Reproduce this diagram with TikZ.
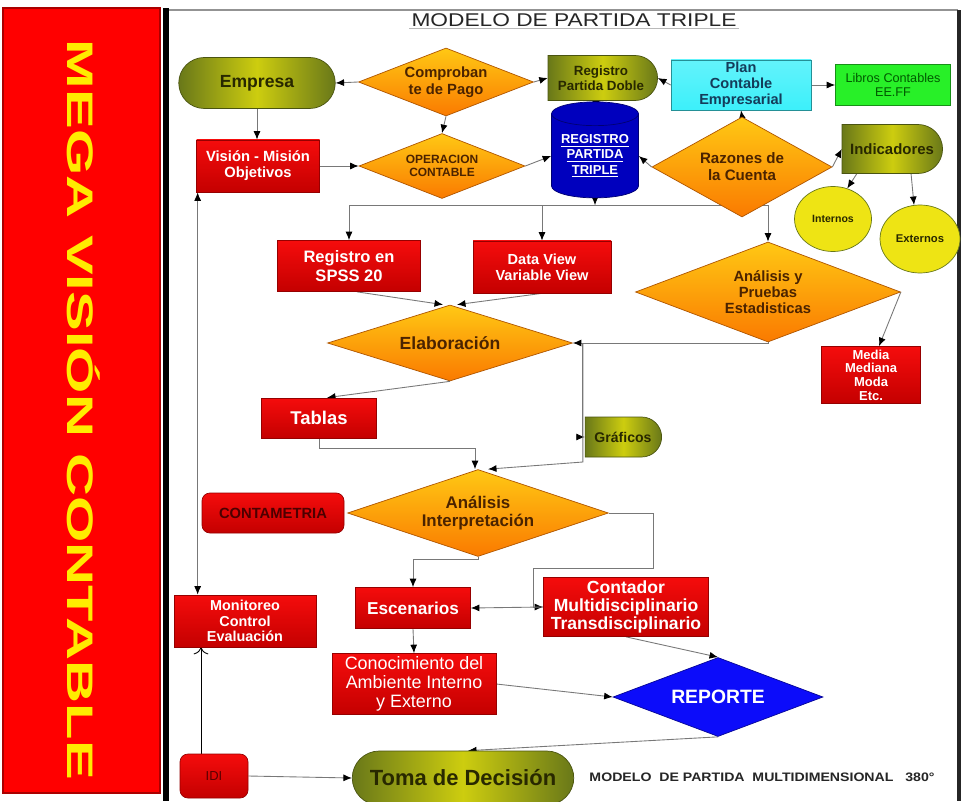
\documentclass[tikz,border=0pt]{standalone}
\usepackage{fontspec}
\setmainfont{Liberation Sans}
\usetikzlibrary{shapes.geometric, shapes.misc, arrows.meta, positioning, backgrounds, calc}

\definecolor{rojoA}{RGB}{245,12,12}
\definecolor{rojoB}{RGB}{196,0,0}
\definecolor{bordeRojo}{RGB}{150,0,0}
\definecolor{rojoBanda}{RGB}{255,0,0}
\definecolor{naranjaA}{RGB}{255,200,20}
\definecolor{naranjaB}{RGB}{250,122,0}
\definecolor{cafe}{RGB}{75,35,0}
\definecolor{oliva}{RGB}{105,120,25}
\definecolor{olivaClaro}{RGB}{205,205,15}
\definecolor{olivaOsc}{RGB}{40,40,0}
\definecolor{amarillo}{RGB}{238,228,20}
\definecolor{amarilloTxt}{RGB}{255,236,0}
\definecolor{azulCil}{RGB}{0,0,190}
\definecolor{azulRep}{RGB}{12,12,250}
\definecolor{cian}{RGB}{60,240,250}
\definecolor{tinta}{RGB}{20,60,90}
\definecolor{verdeLib}{RGB}{40,240,40}
\definecolor{gris}{RGB}{120,120,120}

\newcommand{\tam}[2]{\fontsize{#1}{#2}\selectfont}

\tikzset{
  caja/.style={rectangle, draw=bordeRojo, line width=0.4pt, top color=rojoA,
    bottom color=rojoB, text=white, align=center, inner sep=1pt},
  decision/.style={diamond, draw=naranjaB!70!black, line width=0.4pt, top color=naranjaA,
    bottom color=naranjaB, text=cafe, align=center, inner sep=0pt, aspect=2.5},
  terminal/.style={rounded rectangle, draw=oliva!70!black, line width=0.4pt, left color=oliva,
    right color=oliva, middle color=olivaClaro, text=olivaOsc, align=center, inner sep=1pt},
  retardo/.style={terminal, rounded rectangle left arc=none},
  circulo/.style={ellipse, draw=oliva, line width=0.4pt, fill=amarillo, text=olivaOsc,
    inner sep=0pt},
  con/.style={draw=gris, line width=0.5pt, -{Latex[length=1.7mm,width=1.4mm,color=black]}},
  conab/.style={draw=gris, line width=0.5pt,
    {Latex[length=1.7mm,width=1.4mm,color=black]}-{Latex[length=1.7mm,width=1.4mm,color=black]}},
  sube/.style={draw=black, line width=0.5pt, -{To[length=1.4mm]}}
}

\begin{document}
\begin{tikzpicture}[x=0.2mm, y=-0.2mm]
\useasboundingbox (0,0) rectangle (966,801);

% banda lateral y marco
\begin{scope}[on background layer]
\fill[white] (0,0) rectangle (966,801);
\draw[line width=0.5mm, draw=bordeRojo!80!red, fill=rojoBanda] (3,8) rectangle (160,793);
\fill[black] (163,8) rectangle (169,801);
\draw[gris!80, line width=0.5mm] (169,10) -- (958,10);
\fill[gray!30!black] (957,10) rectangle (961,801);
\end{scope}

\node (banda) [rotate=-90, text=amarilloTxt, font=\tam{21}{22}\bfseries] at (84,410)
  {\resizebox{148mm}{\height}{MEGA VISIÓN CONTABLE}} ;

\node (titulo) [text=black!85, inner sep=1pt, font=\tam{10.5}{12}] at (574,20)
  {\resizebox{65mm}{\height}{MODELO DE PARTIDA TRIPLE}} ;
\draw[gray!55, line width=0.8pt] (titulo.south west) -- (titulo.south east);

% fila superior
\node (emp) [terminal, minimum width=32mm, minimum height=10.2mm, font=\tam{10}{11}\bfseries] at (257,83) {Empresa} ;
\node (comp) [decision, minimum width=35mm, minimum height=13.6mm, aspect=2.6, font=\tam{8.4}{9.4}\bfseries] at (446,82) {Comproban\\te de Pago} ;
\node (rpd) [retardo, minimum width=22.6mm, minimum height=9mm, font=\tam{7.6}{8.4}\bfseries] at (601,78) {Registro\\Partida Doble} ;
\node (plan) [rectangle, draw=cian!60!black, line width=0.4pt, top color=cian!80!white, bottom color=cian,
  text=tinta, align=center, inner sep=1pt, minimum width=28mm, minimum height=10mm,
  font=\tam{8.3}{9}\bfseries] at (741,85) {Plan\\Contable\\Empresarial} ;
\node (lib) [rectangle, draw=verdeLib!60!black, line width=0.4pt, fill=verdeLib, text=green!35!black,
  align=center, inner sep=1pt, minimum width=23mm, minimum height=8.2mm,
  font=\tam{7.2}{8}] at (893,85) {Libros Contables\\EE.FF} ;

% segunda fila
\node (vis) [caja, minimum width=24.6mm, minimum height=10.4mm, font=\tam{8.4}{9.2}\bfseries] at (258,166) {Visión - Misión\\Objetivos} ;
\node (oper) [decision, minimum width=33.2mm, minimum height=13mm, aspect=2.55, font=\tam{6.8}{7.6}\bfseries] at (442,166) {OPERACION\\CONTABLE} ;
\node (rpt) [cylinder, shape border rotate=90, aspect=0.35, draw=azulCil!60!black, line width=0.4pt,
  fill=azulCil, text=white, align=center, inner sep=0pt, minimum height=19.2mm, minimum width=17.4mm,
  font=\tam{7.4}{8.8}\bfseries] at (595,156) {\underline{REGISTRO}\\\underline{PARTIDA}\\\underline{TRIPLE}} ;
\node (raz) [decision, minimum width=36mm, minimum height=20mm, aspect=1.8, font=\tam{8.6}{9.6}\bfseries] at (742,167) {Razones de\\la Cuenta} ;
\node (ind) [retardo, minimum width=20.8mm, minimum height=9.8mm, font=\tam{8.5}{9.5}\bfseries] at (892,149) {Indicadores} ;
\node (intr) [circulo, minimum width=15.4mm, minimum height=13mm, font=\tam{6}{7}\bfseries] at (833,219) {Internos} ;
\node (extr) [circulo, minimum width=16mm, minimum height=13.6mm, font=\tam{6.4}{7}\bfseries] at (920,239) {Externos} ;

% procesamiento
\node (spss) [caja, minimum width=28.6mm, minimum height=10.2mm, font=\tam{9.4}{10.4}\bfseries] at (349,266) {Registro en\\SPSS 20} ;
\node (dv) [caja, minimum width=27.6mm, minimum height=10.4mm, font=\tam{8.3}{9.2}\bfseries] at (542,267) {Data View\\Variable View} ;
\node (apr) [decision, minimum width=53mm, minimum height=20mm, aspect=2.65, font=\tam{8.4}{9.2}\bfseries] at (768,292) {Análisis y\\Pruebas\\Estadisticas} ;
\node (med) [caja, minimum width=19.8mm, minimum height=11.4mm, font=\tam{7.4}{7.8}\bfseries] at (871,375) {Media\\Mediana\\Moda\\Etc.} ;
\node (elab) [decision, minimum width=49mm, minimum height=15.2mm, aspect=3.2, font=\tam{10}{11}\bfseries] at (450,343) {Elaboración} ;
\node (tab) [caja, minimum width=23mm, minimum height=8mm, font=\tam{10.5}{11}\bfseries] at (319,418) {Tablas} ;
\node (graf) [retardo, minimum width=16mm, minimum height=8mm, font=\tam{8}{9}\bfseries] at (623,437) {Gráficos} ;

% analisis e interpretacion
\node (ai) [decision, minimum width=52.2mm, minimum height=17.4mm, aspect=3, font=\tam{9.6}{10.6}\bfseries] at (478,513) {Análisis\\Interpretación} ;
\node (ctm) [caja, rounded corners=1.6mm, text=red!30!black, minimum width=28.4mm, minimum height=8mm, font=\tam{8.4}{9}\bfseries] at (273,513) {CONTAMETRIA} ;
\node (mon) [caja, minimum width=28.4mm, minimum height=10.4mm, font=\tam{8.2}{8.8}\bfseries] at (245,621) {Monitoreo\\Control\\Evaluación} ;
\node (esc) [caja, minimum width=23mm, minimum height=8.2mm, font=\tam{9.8}{10.6}\bfseries] at (413,608) {Escenarios} ;
\node (cont) [caja, minimum width=33mm, minimum height=11.8mm, font=\tam{10}{10.4}\bfseries] at (626,607) {Contador\\Multidisciplinario\\Transdisciplinario} ;
\node (con) [caja, minimum width=32.8mm, minimum height=12.2mm, font=\tam{10.2}{11}] at (414,684) {Conocimiento del\\Ambiente Interno\\y Externo} ;
\node (rep) [diamond, draw=azulRep!60!black, line width=0.4pt, fill=azulRep, text=white, inner sep=0pt,
  aspect=2.66, minimum width=42mm, minimum height=15.8mm, font=\tam{11}{12}\bfseries] at (718,697) {REPORTE} ;

% fila inferior
\node (idi) [caja, rounded corners=1.6mm, text=red!35!black, minimum width=13.6mm, minimum height=8.8mm, font=\tam{7.4}{8}] at (214,776) {IDI} ;
\node (toma) [terminal, minimum width=45mm, minimum height=10.8mm, font=\tam{12.5}{13}\bfseries] at (463,778) {Toma de Decisión} ;
\node (pie) [text=black!85, font=\tam{7}{8}\bfseries] at (762,777)
  {\resizebox{69mm}{\height}{MODELO\ \ DE PARTIDA\ \ MULTIDIMENSIONAL\ \ \ 380°}} ;

\coordinate (bus) at ([yshift=-1.4mm]rpt.south) ;
\coordinate (vj) at ([xshift=2mm]elab.east) ;
\coordinate (vjb) at ([yshift=-23.8mm]vj) ;
\coordinate (visBase) at ([xshift=0.3mm]vis.south west) ;
\coordinate (idiArr) at ([xshift=-2.6mm]idi.north) ;

\begin{scope}[on background layer]
\draw[con] (comp.west) -- (emp.east);
\draw[con] (comp.east) -- (rpd.west);
\draw[con] (comp.south) -- (oper.north);
\draw[con] (emp.south) -- (emp.south |- vis.north);
\draw[con] (vis.east) -- (oper.west);
\draw[con] (oper.east) -- (rpt.west);
\draw[con] (rpt.north) -- (rpd.south);
\draw[con] (plan.west) -- (rpd.east);
\draw[con] (plan.east) -- (lib.west);
\draw[con] (raz.north) -- (plan.south);
\draw[con] (raz.west) -- (rpt.east);
\draw[con] (raz.east) -- (ind.west);
\draw[con] ([xshift=3mm]ind.south west) -- (intr.65);
\draw[con] ([xshift=-1.4mm]ind.south east) -- (extr.100);

\draw[con] (rpt.south) -- (bus);
\draw[con] (bus) -| (spss.north);
\draw[con] (bus) -| (dv.north);
\draw[con] (bus) -| (apr.north);

\draw[con] ([xshift=1.6mm]spss.south) -- ([xshift=-1.4mm]elab.north);
\draw[con] (dv.south) -- ([xshift=1.4mm]elab.north);
\draw[con] (apr.south) |- (elab.east);
\draw[con] (apr.east) -- ([xshift=1.6mm]med.north);
\draw[con] (vj) |- (graf.west);
\draw[con] (vj) -- (vjb) -- ([xshift=2mm]ai.north);
\draw[con] (elab.south) -- ([xshift=1.6mm]tab.north);
\draw[con] (tab.south) -- ++(0,10) -| ([xshift=-0.6mm]ai.north);

\draw[con] (ai.south) -- ++(0,3) -| (esc.north);
\draw[con] (ai.east) -- ++(45,0) -- ++(0,55) -| ([xshift=-2mm]cont.west) -- (cont.west);
\draw[con] (cont.west) -- (esc.east);
\draw[con] (esc.south) -- (con.north);
\draw[con] (cont.south) -- (rep.north);
\draw[con] (con.east) -- (rep.west);
\draw[con] (rep.south) -- ([xshift=1mm]toma.north);
\draw[con] (idi.east) -- (toma.west);
\draw[sube] (idiArr) -- (idiArr |- mon.south);
\draw[conab] (visBase) -- (visBase |- mon.north);
\end{scope}

\end{tikzpicture}
\end{document}
